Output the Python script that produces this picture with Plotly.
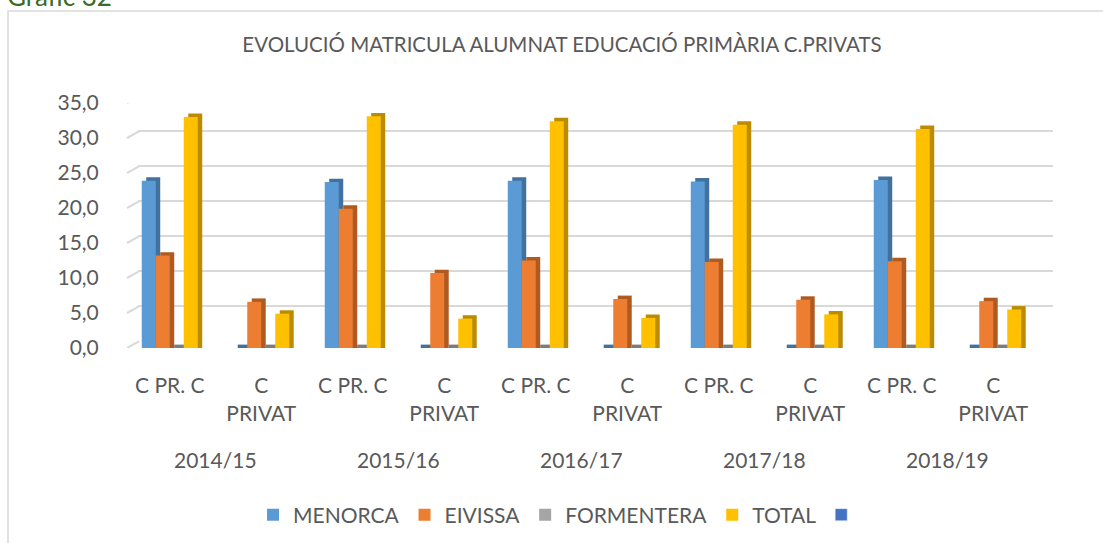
import plotly.graph_objects as go

# ---- data -------------------------------------------------------------
cursos = ["2014/15", "2015/16", "2016/17", "2017/18", "2018/19"]
tipus = ["C PR. C", "C<br>PRIVAT"]

menorca = [23.9, 0.0, 23.7, 0.0, 23.9, 0.0, 23.8, 0.0, 24.0, 0.0]
eivissa = [13.2, 6.6, 19.9, 10.7, 12.5, 7.0, 12.3, 6.9, 12.4, 6.7]
formentera = [0.0, 0.0, 0.0, 0.0, 0.0, 0.0, 0.0, 0.0, 0.0, 0.0]
total = [33.0, 4.9, 33.1, 4.2, 32.4, 4.3, 31.9, 4.8, 31.3, 5.5]

y_ticks = [0, 5, 10, 15, 20, 25, 30, 35]

# ---- styling ----------------------------------------------------------
W, H = 1103, 543
FONT = "Lato, 'Open Sans', sans-serif"
TXT = "#595959"
GRID = "#D9D9D9"

# plot area (front plane) in pixels
PX_L, PX_R, PX_T, PX_B = 124, 1039, 103, 348
BACK_DX, BACK_DY = 14, 6.6          # offset of the back wall
Y_MAX = 35.0
PX_PER_UNIT = (PX_B - PX_T) / Y_MAX
WALL = BACK_DY / PX_PER_UNIT        # wall offset in data units
DEPTH = 3.4 / PX_PER_UNIT           # visible bar top depth in data units
BAR_W = 0.153                       # bar width in category units
SIDE = 0.049                        # visible side-face width

series = [
    ("MENORCA", menorca, "#5B9BD5", "#41719C"),
    ("EIVISSA", eivissa, "#ED7D31", "#AE5A21"),
    ("FORMENTERA", formentera, "#A5A5A5", "#7C7C7C"),
    ("TOTAL", total, "#FFC000", "#BC8C00"),
]

# one slot per (curs, tipus) pair
slot_curs = [c for c in cursos for _ in tipus]
slot_tipus = [t for _ in cursos for t in tipus]
slots = list(range(len(slot_tipus)))


def px_x(p):
    return p / W


def px_y(p):
    return 1 - p / H


fig = go.Figure()

# invisible trace that anchors the back-wall grid subplot
fig.add_trace(go.Scatter(x=[0], y=[0], mode="markers", opacity=0,
                         hoverinfo="skip", showlegend=False,
                         xaxis="x", yaxis="y"))

# side/top faces (drawn first, slightly shifted right and up)
for i, (name, vals, face, side) in enumerate(series):
    off = -2 * BAR_W + i * BAR_W
    fig.add_trace(go.Bar(
        x=slots, y=[v + DEPTH for v in vals], base=0,
        offset=off + SIDE, width=BAR_W,
        marker=dict(color=side, line=dict(width=0)),
        showlegend=False, hoverinfo="skip",
        xaxis="x2", yaxis="y2",
    ))

# front faces
for i, (name, vals, face, side) in enumerate(series):
    off = -2 * BAR_W + i * BAR_W
    fig.add_trace(go.Bar(
        x=slots, y=vals, name=name,
        offset=off, width=BAR_W,
        customdata=slot_curs,
        marker=dict(color=face, line=dict(width=0)),
        xaxis="x2", yaxis="y2",
    ))

# unnamed fifth legend entry
fig.add_trace(go.Bar(x=[None], y=[None], name=" ",
                     marker=dict(color="#4472C4"),
                     xaxis="x2", yaxis="y2"))

# short slanted edges joining the front plane to the back wall
shapes = []
for v in y_ticks:
    shapes.append(dict(type="line", xref="paper", yref="y2",
                       x0=px_x(PX_L + 3), y0=v,
                       x1=px_x(PX_L + BACK_DX + 1), y1=v + WALL,
                       line=dict(color=GRID, width=2)))
# chart frame
shapes.append(dict(type="rect", xref="paper", yref="paper",
                   x0=px_x(8), y0=-0.05, x1=1.05, y1=px_y(11),
                   line=dict(color=GRID, width=1.5)))

# course labels under each pair of slots
annotations = []
for k, c in enumerate(cursos):
    annotations.append(dict(text=c, xref="x2", yref="paper",
                            x=2 * k + 0.5, y=px_y(460), yanchor="middle",
                            showarrow=False,
                            font=dict(family=FONT, size=21, color=TXT)))
annotations.append(dict(text="Gràfic 32", xref="paper", yref="paper",
                        x=px_x(5), y=px_y(-4), xanchor="left",
                        yanchor="middle", showarrow=False,
                        font=dict(family=FONT, size=26, color="#3A6B2A")))

fig.update_layout(
    width=W, height=H,
    margin=dict(l=0, r=0, t=0, b=0, autoexpand=False),
    paper_bgcolor="white",
    plot_bgcolor="rgba(0,0,0,0)",
    barmode="overlay",
    separators=",.",
    font=dict(family=FONT, color=TXT, size=21),
    title=dict(text="EVOLUCIÓ MATRICULA ALUMNAT EDUCACIÓ PRIMÀRIA C.PRIVATS",
               x=562 / W, xanchor="center", y=px_y(45), yanchor="middle",
               font=dict(family=FONT, size=20.5, color=TXT)),
    # back-wall grid
    xaxis=dict(domain=[px_x(PX_L + BACK_DX), px_x(PX_R + BACK_DX)],
               range=[0, 1], visible=False, anchor="y", automargin=False),
    yaxis=dict(domain=[px_y(PX_B - BACK_DY), px_y(PX_T - BACK_DY)],
               range=[0, Y_MAX], anchor="x", tickvals=y_ticks,
               showticklabels=False, showgrid=True, gridcolor=GRID,
               gridwidth=2, zeroline=False, showline=False,
               automargin=False),
    # bars
    xaxis2=dict(domain=[px_x(PX_L), px_x(PX_R)], anchor="y2",
                range=[-0.5, len(slots) - 0.5],
                tickvals=slots, ticktext=slot_tipus,
                showgrid=False, zeroline=False, showline=False,
                ticks="outside", ticklen=19, tickcolor="rgba(0,0,0,0)",
                tickfont=dict(size=21, color=TXT), automargin=False),
    yaxis2=dict(domain=[px_y(PX_B), px_y(PX_T)], anchor="x2",
                range=[0, Y_MAX], tickvals=y_ticks, tickformat=".1f",
                showgrid=False, zeroline=False, showline=False,
                ticks="outside", ticklen=20, tickcolor="rgba(0,0,0,0)",
                tickfont=dict(size=21, color=TXT), automargin=False),
    legend=dict(orientation="h", x=0.51, xanchor="center",
                y=px_y(515), yanchor="middle",
                font=dict(size=21, color=TXT), itemwidth=30,
                traceorder="normal"),
    shapes=shapes,
    annotations=annotations,
)

fig.write_html("out.html")
